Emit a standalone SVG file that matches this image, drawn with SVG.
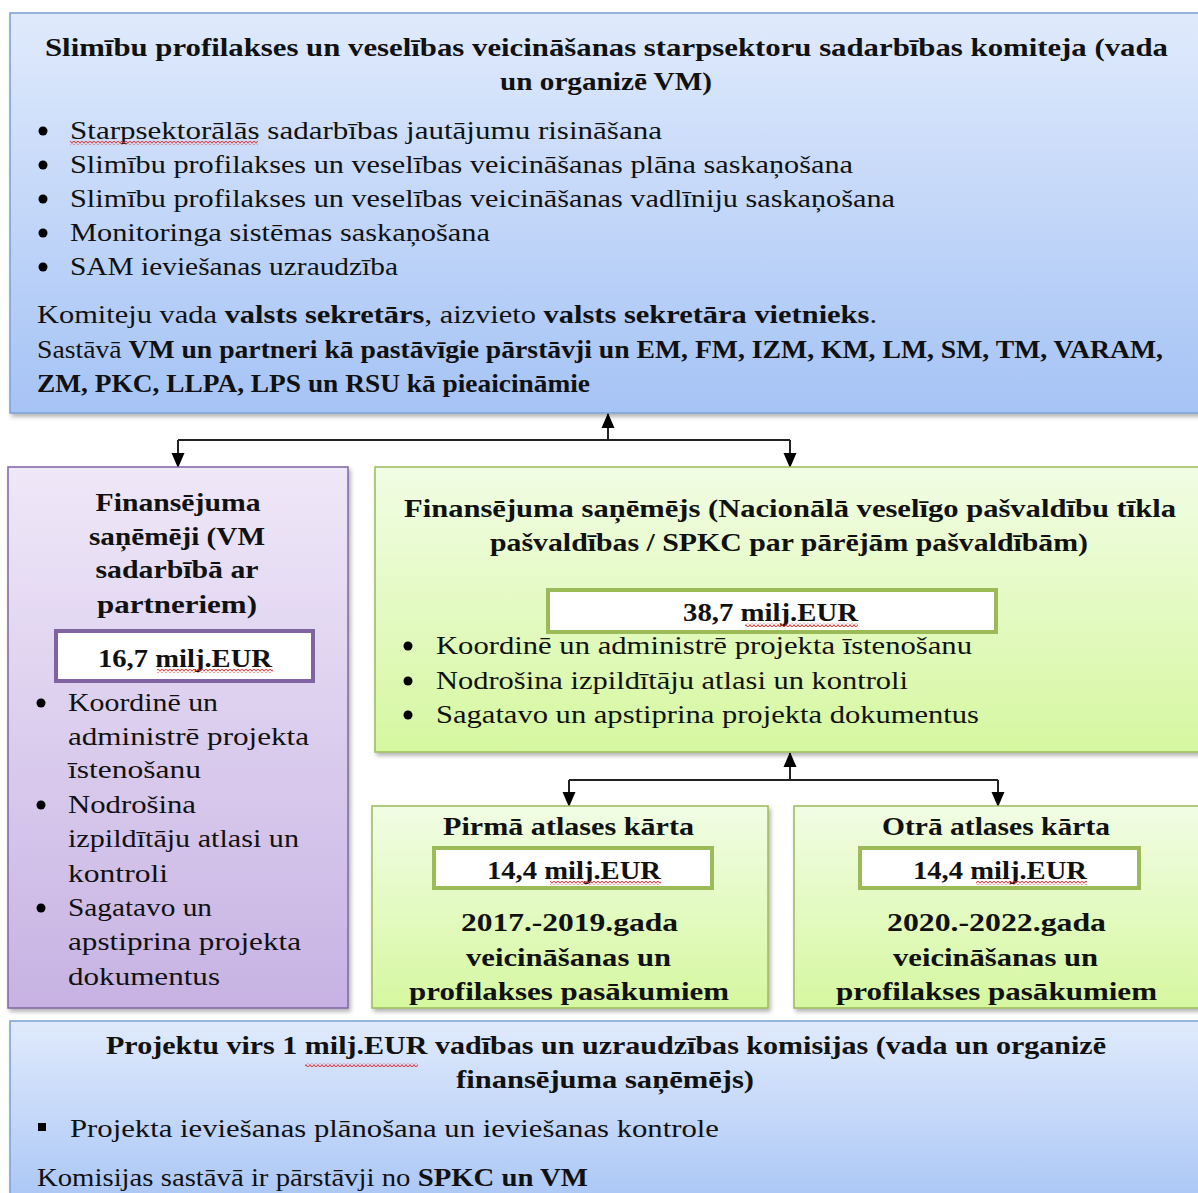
<svg xmlns="http://www.w3.org/2000/svg" width="1198" height="1193" viewBox="0 0 1198 1193">
<defs>
<linearGradient id="gBlue" x1="0" y1="0" x2="0" y2="1"><stop offset="0" stop-color="#e0eafc"/><stop offset="1" stop-color="#a5c3f5"/></linearGradient>
<linearGradient id="gPurple" x1="0" y1="0" x2="0" y2="1"><stop offset="0" stop-color="#efe8f8"/><stop offset="1" stop-color="#c7b2e3"/></linearGradient>
<linearGradient id="gGreen" x1="0" y1="0" x2="0" y2="1"><stop offset="0" stop-color="#f1fde4"/><stop offset="1" stop-color="#d6f7a0"/></linearGradient>
<filter id="sh" x="-5%" y="-5%" width="110%" height="110%"><feDropShadow dx="2" dy="3" stdDeviation="2" flood-color="#000" flood-opacity="0.3"/></filter>
<pattern id="wave" width="4" height="4" patternUnits="userSpaceOnUse"><path d="M0,3.5 L2,0.5 L4,3.5" fill="none" stroke="#e03030" stroke-width="1"/></pattern>
<marker id="arr" markerWidth="16" markerHeight="16" refX="14" refY="8" orient="auto" markerUnits="userSpaceOnUse"><path d="M0,1.5 L15,8 L0,14.5 Z" fill="#000"/></marker>
<style>
text{font-family:"Liberation Serif","DejaVu Serif",serif;fill:#111;font-size:26px}
.b{font-weight:bold}
.c{text-anchor:middle}
.blue{fill:url(#gBlue);stroke:#7aa0d4;stroke-width:1.5}
.pur{fill:url(#gPurple);stroke:#8064a2;stroke-width:1.5}
.grn{fill:url(#gGreen);stroke:#9bbb59;stroke-width:1.5}
.wp{fill:#fff;stroke:#8064a2;stroke-width:4}
.wg{fill:#fff;stroke:#9bbb59;stroke-width:4}
.dot{fill:#000}
.conn{fill:none;stroke:#222;stroke-width:2}
.sq{fill:url(#wave)}
</style>
</defs>
<rect width="1198" height="1193" fill="#fff"/>

<g id="committee">
<rect class="blue" x="10" y="13" width="1200" height="400" filter="url(#sh)"/>
<text class="b" x="45" y="56" textLength="1123" lengthAdjust="spacingAndGlyphs">Slimību profilakses un veselības veicināšanas starpsektoru sadarbības komiteja (vada</text>
<text class="b" x="500" y="90" textLength="212" lengthAdjust="spacingAndGlyphs">un organizē VM)</text>
<circle class="dot" cx="43" cy="131" r="4.5"/><circle class="dot" cx="43" cy="165" r="4.5"/><circle class="dot" cx="43" cy="199" r="4.5"/><circle class="dot" cx="43" cy="233" r="4.5"/><circle class="dot" cx="43" cy="267" r="4.5"/>
<text x="70" y="139" textLength="592" lengthAdjust="spacingAndGlyphs">Starpsektorālās sadarbības jautājumu risināšana</text>
<rect class="sq" x="70" y="141" width="188" height="4"/>
<text x="70" y="173" textLength="783" lengthAdjust="spacingAndGlyphs">Slimību profilakses un veselības veicināšanas plāna saskaņošana</text>
<text x="70" y="207" textLength="825" lengthAdjust="spacingAndGlyphs">Slimību profilakses un veselības veicināšanas vadlīniju saskaņošana</text>
<text x="70" y="241" textLength="420" lengthAdjust="spacingAndGlyphs">Monitoringa sistēmas saskaņošana</text>
<text x="70" y="275" textLength="328" lengthAdjust="spacingAndGlyphs">SAM ieviešanas uzraudzība</text>
<text x="37" y="323" textLength="840" lengthAdjust="spacingAndGlyphs">Komiteju vada <tspan class="b">valsts sekretārs</tspan>, aizvieto <tspan class="b">valsts sekretāra vietnieks</tspan>.</text>
<text x="37" y="358" textLength="1126" lengthAdjust="spacingAndGlyphs">Sastāvā <tspan class="b">VM un partneri kā pastāvīgie pārstāvji un EM, FM, IZM, KM, LM, SM, TM, VARAM,</tspan></text>
<text class="b" x="37" y="392" textLength="553" lengthAdjust="spacingAndGlyphs">ZM, PKC, LLPA, LPS un RSU kā pieaicināmie</text>
</g>

<g id="connectors">
<path class="conn" d="M178,440 H790"/>
<path class="conn" d="M608,440 V414" marker-end="url(#arr)"/>
<path class="conn" d="M178,440 V467" marker-end="url(#arr)"/>
<path class="conn" d="M790,440 V467" marker-end="url(#arr)"/>
<path class="conn" d="M569,780 H998"/>
<path class="conn" d="M790,780 V753" marker-end="url(#arr)"/>
<path class="conn" d="M569,780 V806" marker-end="url(#arr)"/>
<path class="conn" d="M998,780 V806" marker-end="url(#arr)"/>
</g>

<g id="vm-recipients">
<rect class="pur" x="8" y="467" width="340" height="541" filter="url(#sh)"/>
<text class="b c" x="178" y="511" textLength="165" lengthAdjust="spacingAndGlyphs">Finansējuma</text>
<text class="b c" x="177" y="545" textLength="176" lengthAdjust="spacingAndGlyphs">saņēmēji (VM</text>
<text class="b c" x="177" y="578" textLength="163" lengthAdjust="spacingAndGlyphs">sadarbībā ar</text>
<text class="b c" x="177" y="613" textLength="160" lengthAdjust="spacingAndGlyphs">partneriem)</text>
<rect class="wp" x="56" y="631" width="257" height="50"/>
<text class="b" x="98" y="667" textLength="174" lengthAdjust="spacingAndGlyphs">16,7 milj.EUR</text>
<rect class="sq" x="157" y="669" width="116" height="4"/>
<circle class="dot" cx="41" cy="703" r="4.5"/><circle class="dot" cx="41" cy="805" r="4.5"/><circle class="dot" cx="41" cy="908" r="4.5"/>
<text x="68" y="711" textLength="150" lengthAdjust="spacingAndGlyphs">Koordinē un</text>
<text x="68" y="745" textLength="241" lengthAdjust="spacingAndGlyphs">administrē projekta</text>
<text x="68" y="778" textLength="133" lengthAdjust="spacingAndGlyphs">īstenošanu</text>
<text x="68" y="813" textLength="128" lengthAdjust="spacingAndGlyphs">Nodrošina</text>
<text x="68" y="847" textLength="231" lengthAdjust="spacingAndGlyphs">izpildītāju atlasi un</text>
<text x="68" y="882" textLength="100" lengthAdjust="spacingAndGlyphs">kontroli</text>
<text x="68" y="916" textLength="144" lengthAdjust="spacingAndGlyphs">Sagatavo un</text>
<text x="68" y="950" textLength="233" lengthAdjust="spacingAndGlyphs">apstiprina projekta</text>
<text x="68" y="985" textLength="152" lengthAdjust="spacingAndGlyphs">dokumentus</text>
</g>

<g id="national-recipient">
<rect class="grn" x="375" y="467" width="835" height="285" filter="url(#sh)"/>
<text class="b" x="404" y="517" textLength="772" lengthAdjust="spacingAndGlyphs">Finansējuma saņēmējs (Nacionālā veselīgo pašvaldību tīkla</text>
<text class="b" x="490" y="551" textLength="598" lengthAdjust="spacingAndGlyphs">pašvaldības / SPKC par pārējām pašvaldībām)</text>
<rect class="wg" x="548" y="590" width="448" height="42"/>
<text class="b" x="683" y="621" textLength="175" lengthAdjust="spacingAndGlyphs">38,7 milj.EUR</text>
<rect class="sq" x="745" y="623" width="113" height="4"/>
<circle class="dot" cx="408" cy="646" r="4.5"/><circle class="dot" cx="408" cy="681" r="4.5"/><circle class="dot" cx="408" cy="715" r="4.5"/>
<text x="436" y="654" textLength="536" lengthAdjust="spacingAndGlyphs">Koordinē un administrē projekta īstenošanu</text>
<text x="436" y="689" textLength="472" lengthAdjust="spacingAndGlyphs">Nodrošina izpildītāju atlasi un kontroli</text>
<text x="436" y="723" textLength="543" lengthAdjust="spacingAndGlyphs">Sagatavo un apstiprina projekta dokumentus</text>
</g>

<g id="round-1">
<rect class="grn" x="372" y="806" width="396" height="202" filter="url(#sh)"/>
<text class="b" x="443" y="835" textLength="251" lengthAdjust="spacingAndGlyphs">Pirmā atlases kārta</text>
<rect class="wg" x="434" y="848" width="278" height="40"/>
<text class="b" x="487" y="879" textLength="174" lengthAdjust="spacingAndGlyphs">14,4 milj.EUR</text>
<rect class="sq" x="550" y="881" width="111" height="4"/>
<text class="b" x="461" y="931" textLength="217" lengthAdjust="spacingAndGlyphs">2017.-2019.gada</text>
<text class="b" x="466" y="966" textLength="205" lengthAdjust="spacingAndGlyphs">veicināšanas un</text>
<text class="b" x="409" y="1000" textLength="320" lengthAdjust="spacingAndGlyphs">profilakses pasākumiem</text>
</g>

<g id="round-2">
<rect class="grn" x="794" y="806" width="416" height="202" filter="url(#sh)"/>
<text class="b" x="882" y="835" textLength="228" lengthAdjust="spacingAndGlyphs">Otrā atlases kārta</text>
<rect class="wg" x="860" y="848" width="279" height="40"/>
<text class="b" x="913" y="879" textLength="174" lengthAdjust="spacingAndGlyphs">14,4 milj.EUR</text>
<rect class="sq" x="976" y="881" width="111" height="4"/>
<text class="b" x="887" y="931" textLength="219" lengthAdjust="spacingAndGlyphs">2020.-2022.gada</text>
<text class="b" x="893" y="966" textLength="205" lengthAdjust="spacingAndGlyphs">veicināšanas un</text>
<text class="b" x="836" y="1000" textLength="321" lengthAdjust="spacingAndGlyphs">profilakses pasākumiem</text>
</g>

<g id="commission">
<rect class="blue" x="10" y="1021" width="1200" height="200" filter="url(#sh)"/>
<text class="b" x="106" y="1054" textLength="1000" lengthAdjust="spacingAndGlyphs">Projektu virs 1 milj.EUR vadības un uzraudzības komisijas (vada un organizē</text>
<rect class="sq" x="305" y="1063" width="113" height="4"/>
<text class="b" x="456" y="1088" textLength="298" lengthAdjust="spacingAndGlyphs">finansējuma saņēmējs)</text>
<rect x="38" y="1123" width="8" height="8" fill="#000"/>
<text x="70" y="1137" textLength="649" lengthAdjust="spacingAndGlyphs">Projekta ieviešanas plānošana un ieviešanas kontrole</text>
<text x="37" y="1186" textLength="551" lengthAdjust="spacingAndGlyphs">Komisijas sastāvā ir pārstāvji no <tspan class="b">SPKC un VM</tspan></text>
</g>
</svg>
